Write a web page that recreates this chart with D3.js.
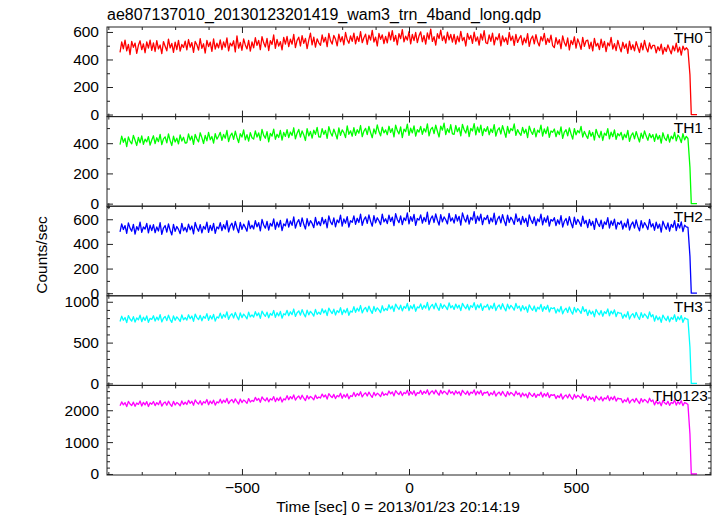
<!DOCTYPE html>
<html><head><meta charset="utf-8">
<script src="https://cdn.jsdelivr.net/npm/d3@7"></script>
<style>body{margin:0;background:#fff} text{font-family:"Liberation Sans",Arial,Helvetica,sans-serif;fill:#000}</style>
</head><body><svg id="c" width="717" height="516"></svg>
<script>
const title = "ae807137010_20130123201419_wam3_trn_4band_long.qdp";
const xLabel = "Time [sec] 0 = 2013/01/23 20:14:19";
const yLabel = "Counts/sec";
const seriesNames = ["TH0", "TH1", "TH2", "TH3", "TH0123"];
const seriesColors = ["#ff0000", "#00ff00", "#0000ff", "#00ffff", "#ff00ff"];

// sampling: every 5 s from -865 s, then the end-of-data drop at tailTimes
const timeStart = -865, timeStep = 5;
const tailTimes = [841, 845, 862];

const th0 = [
452,527,478,541,463,509,436,532,488,519,445,503,536,471,514,449,528,482,540,466,
521,458,537,477,505,442,530,496,463,548,484,517,451,526,472,539,461,509,487,533,
470,545,489,523,452,531,507,468,552,481,514,447,538,493,526,459,549,476,518,484,
542,471,528,489,557,463,519,498,536,455,571,482,524,467,549,506,477,538,461,527,
484,558,503,539,472,566,521,491,553,465,537,509,578,481,546,497,529,470,561,512,
567,493,548,511,583,486,539,562,498,574,517,553,479,541,592,506,563,489,550,521,
503,578,526,561,494,589,537,512,575,548,499,584,529,566,507,596,543,518,571,532,
592,514,567,531,603,522,558,584,509,576,541,612,527,563,498,589,546,579,516,568,
521,598,543,609,532,575,506,588,551,617,528,569,541,603,514,582,537,596,523,572,
601,529,574,512,593,547,620,531,566,505,587,552,613,538,571,519,598,543,582,526,
583,512,569,528,604,537,561,498,590,546,575,517,598,533,564,505,586,541,609,522,
515,579,531,592,506,563,542,587,499,571,528,558,510,596,537,569,503,582,524,553,
574,507,556,521,588,495,549,571,513,580,527,498,566,535,590,509,553,524,577,501,
486,559,512,544,478,571,523,497,556,469,538,508,565,483,549,517,474,561,496,535,
541,479,526,462,553,497,518,471,547,488,532,457,521,499,560,476,515,465,539,493,
456,525,481,513,444,534,472,507,463,529,489,451,518,470,538,485,455,521,477,503,
502,448,493,465,511,439,487,458,506,472,441,498,463,519,454,490,432,497,469,485,
471,
288,0,0];
const th1 = [
391,447,406,432,378,441,412,396,452,419,385,438,403,449,393,427,409,444,388,421,
449,397,436,410,458,391,429,442,402,461,417,385,446,408,433,395,455,414,439,401,
403,461,420,447,392,458,429,409,469,437,398,452,416,471,423,444,401,463,427,446,
472,419,458,433,484,411,449,467,425,479,438,404,463,441,488,422,457,414,470,436,
427,482,441,468,418,491,452,433,476,409,465,447,493,426,459,438,484,421,471,445,
489,437,474,451,502,429,466,491,440,481,455,418,497,448,478,434,486,459,505,442,
441,496,458,485,432,509,471,447,493,463,428,501,452,488,470,437,514,459,482,446,
503,452,489,466,517,443,480,498,457,511,471,436,495,462,521,477,449,506,468,488,
456,512,471,497,442,519,483,461,508,437,493,476,526,452,499,468,515,447,489,474,
511,459,497,474,528,448,491,505,463,519,479,441,513,486,532,457,496,470,522,462,
459,517,476,503,448,524,489,467,514,443,498,481,529,455,507,472,519,451,496,478,
509,456,494,471,523,447,487,502,461,516,478,439,511,466,497,483,527,452,490,468,
451,504,466,492,437,513,479,458,498,442,486,471,519,447,494,463,508,439,481,472,
494,443,481,457,508,432,474,489,449,501,462,427,497,455,484,468,511,441,478,452,
431,483,446,472,421,492,458,437,479,418,466,451,497,428,473,443,488,425,464,449,
472,423,459,437,484,412,451,468,429,477,441,408,466,432,481,447,419,463,436,457,
412,461,426,451,401,469,433,418,458,407,447,429,472,415,454,438,404,463,422,445,
431,
240,0,0];
const th2 = [
498,563,517,549,486,571,528,503,558,479,541,512,576,494,537,521,566,489,552,508,
556,491,538,505,572,477,529,549,496,563,511,473,558,502,541,518,483,567,507,534,
497,561,514,545,482,574,531,503,556,489,542,519,577,494,551,508,566,486,538,523,
573,508,556,521,589,497,547,568,513,582,529,491,575,518,561,534,503,587,525,551,
521,589,539,572,506,598,553,528,583,512,566,544,603,519,576,537,591,508,562,547,
603,537,586,551,619,528,574,597,542,611,559,521,606,546,589,566,532,615,553,581,
548,616,563,599,531,628,579,556,611,539,594,572,634,545,603,568,621,537,589,575,
627,559,608,574,642,551,597,619,566,636,583,544,629,571,612,588,556,641,579,604,
565,633,582,617,549,646,598,573,628,556,611,589,652,563,621,584,639,551,606,593,
636,568,615,581,657,559,604,627,574,643,592,553,638,579,619,596,562,648,586,611,
569,638,586,624,553,651,607,578,633,561,616,594,661,567,625,588,642,556,612,597,
632,564,611,579,649,556,601,624,571,638,587,549,633,574,616,593,558,644,582,607,
557,624,573,608,542,636,594,566,619,549,603,581,641,555,612,576,628,544,598,585,
613,548,596,561,629,537,584,606,553,621,569,531,617,558,599,576,543,626,565,591,
532,598,549,584,518,607,568,541,593,524,579,556,613,529,586,551,601,521,574,560,
586,521,569,536,602,513,557,578,528,594,542,506,589,531,573,549,517,598,538,564,
511,576,527,561,496,584,547,519,570,503,558,534,589,508,565,529,578,499,552,538,
535,
299,0,0];
const th3 = [
758,823,774,807,745,831,789,763,818,751,802,779,836,756,811,772,826,748,797,784,
829,764,811,776,843,753,798,821,769,836,782,747,827,773,815,791,758,839,780,806,
775,841,792,826,761,849,806,781,834,767,821,797,855,772,829,788,845,763,815,801,
861,796,844,811,877,785,831,853,801,869,818,779,864,806,849,824,791,873,814,839,
812,878,829,863,796,886,848,821,872,803,857,834,893,809,866,827,881,799,853,840,
895,829,878,843,911,821,866,889,836,904,851,815,898,839,883,857,824,907,846,872,
846,914,863,897,831,922,884,856,909,838,892,869,928,843,901,865,918,835,887,873,
939,871,921,886,954,864,908,931,878,947,894,858,942,883,926,901,867,951,889,917,
896,963,912,948,881,972,934,906,958,888,943,921,979,893,951,915,968,884,937,925,
973,907,955,922,991,899,944,966,914,984,931,895,977,919,961,937,903,987,926,952,
906,972,923,958,891,981,943,915,967,898,953,931,989,903,962,926,976,894,947,935,
968,902,951,917,984,893,939,961,909,976,925,889,971,913,956,932,898,979,921,947,
887,953,904,939,872,962,923,895,948,879,933,911,968,884,941,906,957,876,927,915,
928,862,911,877,944,853,898,921,869,937,884,849,931,873,916,892,858,941,881,907,
832,897,849,884,816,906,868,841,893,823,878,856,912,829,886,851,901,819,872,860,
862,797,846,812,879,788,833,855,804,871,819,784,867,808,851,827,793,876,816,842,
762,828,779,813,747,836,798,771,823,754,808,786,841,759,817,781,831,749,802,790,
783,
443,0,0];
const th0123 = [
2138,2262,2171,2239,2115,2276,2196,2147,2254,2124,2228,2183,2289,2132,2247,2168,2271,2119,2233,2189,
2274,2147,2238,2176,2301,2129,2217,2259,2158,2286,2192,2121,2279,2164,2243,2203,2139,2293,2181,2251,
2182,2309,2214,2281,2157,2324,2243,2196,2297,2168,2269,2225,2338,2173,2289,2208,2316,2161,2262,2231,
2348,2222,2317,2249,2371,2208,2293,2336,2237,2359,2268,2194,2352,2241,2322,2279,2215,2367,2256,2309,
2276,2403,2311,2372,2252,2418,2343,2294,2391,2263,2361,2319,2429,2271,2384,2305,2411,2258,2356,2327,
2459,2331,2426,2362,2481,2318,2401,2447,2349,2472,2378,2306,2463,2355,2433,2391,2327,2476,2368,2418,
2382,2508,2416,2479,2351,2521,2449,2398,2497,2367,2464,2424,2532,2376,2488,2409,2515,2359,2457,2431,
2558,2432,2527,2463,2581,2418,2502,2546,2449,2569,2478,2405,2562,2456,2534,2491,2427,2574,2468,2519,
2477,2603,2512,2574,2451,2617,2544,2493,2592,2462,2559,2521,2628,2471,2585,2503,2611,2455,2553,2528,
2623,2498,2591,2529,2644,2483,2567,2609,2512,2632,2541,2472,2626,2519,2598,2556,2491,2638,2533,2582,
2487,2612,2521,2583,2462,2627,2553,2504,2601,2473,2569,2531,2637,2479,2594,2513,2619,2466,2562,2538,
2583,2457,2551,2489,2604,2443,2527,2569,2472,2592,2501,2432,2586,2478,2558,2516,2451,2598,2493,2542,
2417,2542,2452,2513,2391,2557,2483,2434,2531,2403,2499,2461,2567,2411,2524,2443,2549,2396,2492,2468,
2493,2367,2461,2399,2516,2352,2437,2479,2384,2504,2413,2341,2497,2389,2468,2426,2362,2509,2403,2452,
2307,2432,2341,2403,2282,2447,2373,2324,2421,2293,2389,2351,2457,2301,2414,2333,2439,2286,2382,2358,
2363,2238,2331,2269,2386,2223,2307,2349,2254,2374,2283,2212,2367,2259,2338,2296,2231,2379,2273,2322,
2167,2292,2201,2263,2142,2307,2233,2184,2281,2153,2249,2211,2317,2161,2274,2193,2299,2146,2242,2218,
2178,
1250,0,0];

const xDomain = [-904, 904];
const yDomains = [[-15, 636], [-17, 576], [-21, 706], [-24, 1073], [-32, 2780]];
const yMajorTicks = [[0, 200, 400, 600], [0, 200, 400], [0, 200, 400, 600], [0, 500, 1000], [0, 1000, 2000]];
const yMinorStep = [100, 100, 100, 100, 200];
const xMajorTicks = [-500, 0, 500];
const xMinorStep = 100;

const allSeries = [th0, th1, th2, th3, th0123];

const svg = d3.select("#c");
const left = 107, right = 711, top0 = 27, bottom = 475;
const nP = allSeries.length;
const ph = (bottom - top0) / nP;
const fs = 15.5;

const x = d3.scaleLinear().domain(xDomain).range([left, right]);
const nMain = th0.length - tailTimes.length;
const timeAt = j => j < nMain ? timeStart + j * timeStep : tailTimes[j - nMain];
const xMinor = d3.range(Math.ceil(xDomain[0] / xMinorStep) * xMinorStep, xDomain[1] + 1e-9, xMinorStep).filter(v => !xMajorTicks.includes(v));

const labelX = [703, 703, 703, 703, 708];

allSeries.forEach((vals, i) => {
  const pt = top0 + i * ph, pb = pt + ph;
  const y = d3.scaleLinear().domain(yDomains[i]).range([pb, pt]);
  const g = svg.append("g");

  g.append("path")
    .datum(vals)
    .attr("fill", "none")
    .attr("stroke", seriesColors[i])
    .attr("stroke-width", 1.3)
    .attr("stroke-linejoin", "round")
    .attr("d", d3.line().x((d, j) => x(timeAt(j))).y(d => y(d)));

  const yMinor = d3.range(Math.ceil(yDomains[i][0] / yMinorStep[i]) * yMinorStep[i], yDomains[i][1], yMinorStep[i])
    .filter(v => !yMajorTicks[i].includes(v));

  const axStyle = sel => {
    sel.select(".domain").remove();
    sel.selectAll("line").attr("stroke", "#222");
    sel.selectAll("text").style("font-size", fs + "px").style("font-family", '"Liberation Sans",Arial,sans-serif').attr("fill", "#000");
  };

  g.append("g").attr("transform", `translate(${left},0)`)
    .call(d3.axisLeft(y).tickValues(yMajorTicks[i]).tickSize(-6).tickPadding(8).tickFormat(d3.format("d")))
    .call(axStyle);
  g.append("g").attr("transform", `translate(${left},0)`)
    .call(d3.axisLeft(y).tickValues(yMinor).tickSize(-3).tickFormat(""))
    .call(axStyle);
  g.append("g").attr("transform", `translate(${right},0)`)
    .call(d3.axisRight(y).tickValues(yMajorTicks[i]).tickSize(-6).tickFormat(""))
    .call(axStyle);
  g.append("g").attr("transform", `translate(${right},0)`)
    .call(d3.axisRight(y).tickValues(yMinor).tickSize(-3).tickFormat(""))
    .call(axStyle);
  g.append("g").attr("transform", `translate(0,${pt})`)
    .call(d3.axisTop(x).tickValues(xMajorTicks).tickSize(-6).tickFormat(""))
    .call(axStyle);
  g.append("g").attr("transform", `translate(0,${pt})`)
    .call(d3.axisTop(x).tickValues(xMinor).tickSize(-3).tickFormat(""))
    .call(axStyle);
  const last = i === nP - 1;
  g.append("g").attr("transform", `translate(0,${pb})`)
    .call(d3.axisBottom(x).tickValues(xMajorTicks).tickSize(-6).tickPadding(7).tickFormat(last ? d3.format("d") : ""))
    .call(axStyle);
  g.append("g").attr("transform", `translate(0,${pb})`)
    .call(d3.axisBottom(x).tickValues(xMinor).tickSize(-3).tickFormat(""))
    .call(axStyle);

  g.append("rect").attr("x", left).attr("y", pt).attr("width", right - left).attr("height", ph)
    .attr("fill", "none").attr("stroke", "#222").attr("stroke-width", 1);

  g.append("text").attr("x", labelX[i]).attr("y", pt + 16).attr("text-anchor", "end")
    .style("font-size", fs + "px").text(seriesNames[i]);
});

svg.append("text").attr("x", left).attr("y", 20).style("font-size", "16px").text(title);
svg.append("text").attr("x", 398).attr("y", 512).attr("text-anchor", "middle").style("font-size", fs + "px").text(xLabel);
svg.append("text").attr("transform", "translate(47,255) rotate(-90)").attr("text-anchor", "middle").style("font-size", fs + "px").text(yLabel);
</script></body></html>
